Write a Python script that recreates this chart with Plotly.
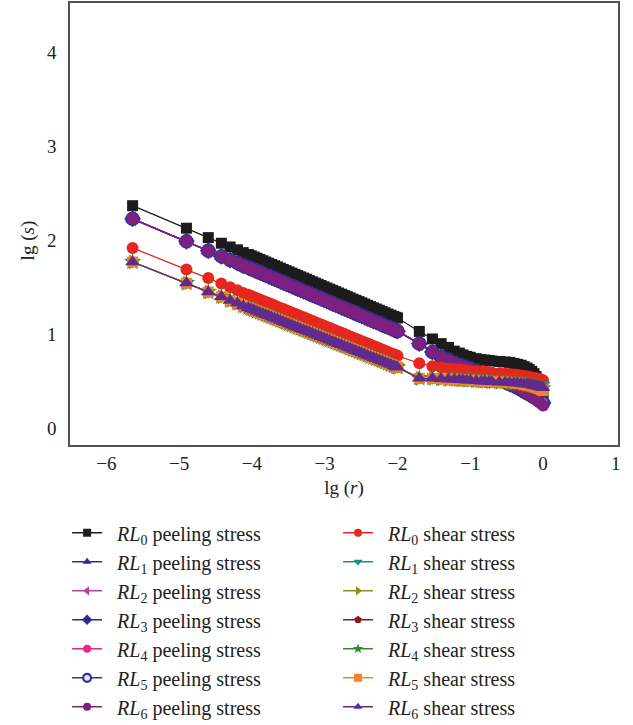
import plotly.graph_objects as go

# lg(r) sampling positions along the bond line
LG_R = [-5.64, -4.90, -4.60, -4.42, -4.30, -4.20, -4.12,
        -4.05, -4.01, -3.97, -3.93, -3.89, -3.85, -3.81, -3.77, -3.73, -3.69,
        -3.65, -3.61, -3.57, -3.53, -3.49, -3.45, -3.41, -3.37, -3.33, -3.29,
        -3.25, -3.21, -3.17, -3.13, -3.09, -3.05, -3.01, -2.97, -2.93, -2.89,
        -2.85, -2.81, -2.77, -2.73, -2.69, -2.65, -2.61, -2.57, -2.53, -2.49,
        -2.45, -2.41, -2.37, -2.33, -2.29, -2.25, -2.21, -2.17, -2.13, -2.09,
        -2.05, -2.02, -2.00,
        -1.70, -1.52, -1.40, -1.30, -1.22, -1.15, -1.10, -1.05, -1.00, -0.92,
        -0.85, -0.80, -0.74, -0.70, -0.60, -0.52, -0.46, -0.40, -0.35, -0.30,
        -0.26, -0.22, -0.19, -0.155, -0.125, -0.097, -0.07, -0.046, -0.022, 0.00]

# RL0 peeling stress, lg(s)
PEEL_RL0 = [2.37, 2.13, 2.03, 1.97, 1.93, 1.90, 1.87,
            1.850, 1.837, 1.823, 1.810, 1.797, 1.784, 1.770, 1.757, 1.744, 1.731,
            1.718, 1.704, 1.691, 1.678, 1.665, 1.652, 1.638, 1.625, 1.612, 1.599,
            1.586, 1.572, 1.559, 1.546, 1.533, 1.520, 1.506, 1.493, 1.480, 1.467,
            1.454, 1.440, 1.427, 1.414, 1.401, 1.388, 1.374, 1.361, 1.348, 1.335,
            1.322, 1.308, 1.295, 1.282, 1.269, 1.256, 1.242, 1.229, 1.216, 1.203,
            1.190, 1.180, 1.173,
            1.03, 0.95, 0.90, 0.86, 0.82, 0.80, 0.78, 0.765, 0.755, 0.74,
            0.73, 0.725, 0.72, 0.715, 0.71, 0.705, 0.70, 0.69, 0.68, 0.67,
            0.655, 0.64, 0.625, 0.605, 0.58, 0.55, 0.52, 0.49, 0.44, 0.37]

# RL1-RL6 peeling stress share one band up to lg(r) = -0.30
PEEL_BAND = [2.23, 1.99, 1.89, 1.83, 1.79, 1.76, 1.73,
             1.710, 1.697, 1.683, 1.670, 1.657, 1.644, 1.630, 1.617, 1.604, 1.591,
             1.578, 1.564, 1.551, 1.538, 1.525, 1.512, 1.498, 1.485, 1.472, 1.459,
             1.446, 1.432, 1.419, 1.406, 1.393, 1.380, 1.366, 1.353, 1.340, 1.327,
             1.314, 1.300, 1.287, 1.274, 1.261, 1.248, 1.234, 1.221, 1.208, 1.195,
             1.182, 1.168, 1.155, 1.142, 1.129, 1.116, 1.102, 1.089, 1.076, 1.063,
             1.050, 1.040, 1.033,
             0.90, 0.81, 0.76, 0.72, 0.69, 0.67, 0.655, 0.64, 0.63, 0.61,
             0.59, 0.575, 0.56, 0.55, 0.52, 0.49, 0.47, 0.45, 0.43, 0.41]
PEEL_RL1 = PEEL_BAND + [0.395, 0.38, 0.365, 0.35, 0.335, 0.32, 0.31, 0.30, 0.29, 0.28]
PEEL_RL2 = PEEL_BAND + [0.39, 0.375, 0.36, 0.345, 0.33, 0.315, 0.30, 0.285, 0.27, 0.26]
PEEL_RL3 = PEEL_BAND + [0.39, 0.375, 0.36, 0.345, 0.33, 0.315, 0.30, 0.29, 0.28, 0.27]
PEEL_RL4 = PEEL_BAND + [0.39, 0.37, 0.355, 0.34, 0.325, 0.31, 0.295, 0.28, 0.265, 0.25]
PEEL_RL5 = PEEL_BAND + [0.39, 0.375, 0.36, 0.345, 0.33, 0.32, 0.305, 0.29, 0.28, 0.27]
PEEL_RL6 = PEEL_BAND + [0.39, 0.37, 0.355, 0.34, 0.32, 0.305, 0.29, 0.275, 0.26, 0.24]

# RL0 shear stress, lg(s)
SHEAR_RL0 = [1.92, 1.69, 1.60, 1.54, 1.50, 1.47, 1.44,
             1.421, 1.408, 1.395, 1.382, 1.370, 1.357, 1.344, 1.332, 1.319, 1.306,
             1.294, 1.281, 1.268, 1.256, 1.243, 1.230, 1.218, 1.205, 1.192, 1.180,
             1.167, 1.154, 1.142, 1.129, 1.116, 1.104, 1.091, 1.078, 1.066, 1.053,
             1.040, 1.027, 1.015, 1.002, 0.989, 0.977, 0.964, 0.951, 0.939, 0.926,
             0.913, 0.901, 0.888, 0.875, 0.863, 0.850, 0.837, 0.825, 0.812, 0.799,
             0.787, 0.777, 0.771,
             0.69, 0.66, 0.645, 0.635, 0.63, 0.625, 0.62, 0.615, 0.61, 0.605,
             0.60, 0.60, 0.595, 0.59, 0.585, 0.58, 0.575, 0.57, 0.565, 0.56,
             0.555, 0.55, 0.545, 0.54, 0.535, 0.53, 0.525, 0.52, 0.515, 0.51]

# RL1-RL6 shear stress share one band up to lg(r) = -0.30
SHEAR_BAND = [1.77, 1.545, 1.45, 1.40, 1.36, 1.33, 1.30,
              1.282, 1.270, 1.258, 1.245, 1.233, 1.221, 1.208, 1.196, 1.183, 1.171,
              1.159, 1.146, 1.134, 1.122, 1.109, 1.097, 1.084, 1.072, 1.060, 1.047,
              1.035, 1.023, 1.010, 0.998, 0.986, 0.973, 0.961, 0.949, 0.936, 0.924,
              0.911, 0.899, 0.887, 0.874, 0.862, 0.850, 0.837, 0.825, 0.813, 0.800,
              0.788, 0.775, 0.763, 0.751, 0.738, 0.726, 0.714, 0.701, 0.689, 0.677,
              0.664, 0.655, 0.649,
              0.53, 0.53, 0.525, 0.52, 0.52, 0.515, 0.515, 0.51, 0.51, 0.505,
              0.50, 0.50, 0.50, 0.495, 0.49, 0.49, 0.485, 0.48, 0.48, 0.475]
SHEAR_RL1 = SHEAR_BAND + [0.475, 0.475, 0.47, 0.47, 0.465, 0.465, 0.46, 0.46, 0.46, 0.46]
SHEAR_RL2 = SHEAR_BAND + [0.47, 0.465, 0.46, 0.455, 0.45, 0.445, 0.44, 0.435, 0.43, 0.42]
SHEAR_RL3 = SHEAR_BAND + [0.47, 0.47, 0.465, 0.46, 0.455, 0.45, 0.445, 0.44, 0.435, 0.43]
SHEAR_RL4 = SHEAR_BAND + [0.47, 0.465, 0.46, 0.455, 0.45, 0.445, 0.44, 0.435, 0.43, 0.425]
SHEAR_RL5 = SHEAR_BAND + [0.465, 0.46, 0.455, 0.45, 0.44, 0.435, 0.425, 0.42, 0.41, 0.40]
SHEAR_RL6 = SHEAR_BAND + [0.47, 0.47, 0.465, 0.46, 0.455, 0.45, 0.445, 0.44, 0.435, 0.43]

X_TICKS = [-6, -5, -4, -3, -2, -1, 0, 1]
X_TICK_TEXT = ["\u22126", "\u22125", "\u22124", "\u22123", "\u22122", "\u22121", "0", "1"]
Y_TICKS = [0, 1, 2, 3, 4]

FONT = "Liberation Serif"

# (label, values, colour, symbol, plot size, legend column, marker fill)
SERIES = [
    ("<i>RL</i><sub>0</sub> peeling stress", PEEL_RL0, "#1c1c1c", "square", 11, "legend", None),
    ("<i>RL</i><sub>1</sub> peeling stress", PEEL_RL1, "#3b2a8e", "triangle-up", 13, "legend", None),
    ("<i>RL</i><sub>2</sub> peeling stress", PEEL_RL2, "#b4459f", "triangle-left", 13, "legend", None),
    ("<i>RL</i><sub>3</sub> peeling stress", PEEL_RL3, "#2e2b8c", "diamond", 13, "legend", None),
    ("<i>RL</i><sub>4</sub> peeling stress", PEEL_RL4, "#e8278b", "circle", 12, "legend", None),
    ("<i>RL</i><sub>5</sub> peeling stress", PEEL_RL5, "#35318f", "circle", 12, "legend", "#e6e6f2"),
    ("<i>RL</i><sub>6</sub> peeling stress", PEEL_RL6, "#7e1f82", "circle", 12, "legend", None),
    ("<i>RL</i><sub>0</sub> shear stress", SHEAR_RL0, "#e5271f", "circle", 12, "legend2", None),
    ("<i>RL</i><sub>1</sub> shear stress", SHEAR_RL1, "#1b8f90", "triangle-down", 13, "legend2", None),
    ("<i>RL</i><sub>2</sub> shear stress", SHEAR_RL2, "#8c8c1c", "triangle-right", 13, "legend2", None),
    ("<i>RL</i><sub>3</sub> shear stress", SHEAR_RL3, "#8b1a1e", "pentagon", 12, "legend2", None),
    ("<i>RL</i><sub>4</sub> shear stress", SHEAR_RL4, "#2f8c2f", "star", 13, "legend2", None),
    ("<i>RL</i><sub>5</sub> shear stress", SHEAR_RL5, "#f5821f", "square", 11, "legend2", None),
    ("<i>RL</i><sub>6</sub> shear stress", SHEAR_RL6, "#5f2b8d", "triangle-up", 13, "legend2", None),
]

fig = go.Figure()

for name, ys, color, symbol, size, leg, fill in SERIES:
    if fill:
        mk = dict(symbol=symbol, size=size, color=fill, line=dict(color=color, width=2.5))
    else:
        mk = dict(symbol=symbol, size=size, color=color, line=dict(width=0))
    fig.add_trace(go.Scatter(
        x=LG_R, y=ys, mode="lines+markers", name=name, showlegend=False,
        line=dict(color=color, width=1.3), marker=mk,
    ))

# legend entries with small symbols
for i, (name, ys, color, symbol, size, leg, fill) in enumerate(SERIES):
    if fill:
        mk = dict(symbol=symbol, size=8, color=fill, line=dict(color=color, width=2.2))
    else:
        mk = dict(symbol=symbol, size=8, color=color, line=dict(width=0))
    fig.add_trace(go.Scatter(
        x=[None], y=[None], mode="lines+markers", name="\u2002" + name,
        legend=leg, legendgroup=f"g{i}",
        line=dict(color=color, width=1.5), marker=mk,
    ))

axis_common = dict(
    showline=True, linecolor="#505050", linewidth=1.5, mirror=True,
    showgrid=False, zeroline=False, ticks="",
    tickfont=dict(family=FONT, size=19, color="#222222"),
)

legend_common = dict(
    xref="container", yref="container", xanchor="left", yanchor="top",
    tracegroupgap=0, bgcolor="rgba(0,0,0,0)",
    font=dict(family=FONT, size=20, color="#222222"),
)

fig.update_layout(
    width=633, height=725,
    margin=dict(l=70, r=15, t=3, b=280, autoexpand=False),
    plot_bgcolor="white", paper_bgcolor="white",
    font=dict(family=FONT, size=19, color="#222222"),
    xaxis=dict(range=[-6.5, 1.03], tickvals=X_TICKS, ticktext=X_TICK_TEXT,
               title=dict(text="lg (<i>r</i>)", font=dict(family=FONT, size=19), standoff=8),
               **axis_common),
    yaxis=dict(range=[-0.18, 4.53], tickvals=Y_TICKS, ticklabelstandoff=8,
               **axis_common),
    legend=dict(x=0.106, y=0.292, **legend_common),
    legend2=dict(x=0.534, y=0.292, **legend_common),
    annotations=[dict(
        text="lg (<i>s</i>)", textangle=-90, showarrow=False,
        xref="paper", yref="paper", x=-0.0766, y=0.463,
        xanchor="center", yanchor="middle",
        font=dict(family=FONT, size=19, color="#222222"),
    )],
)

fig.write_html("out.html")
